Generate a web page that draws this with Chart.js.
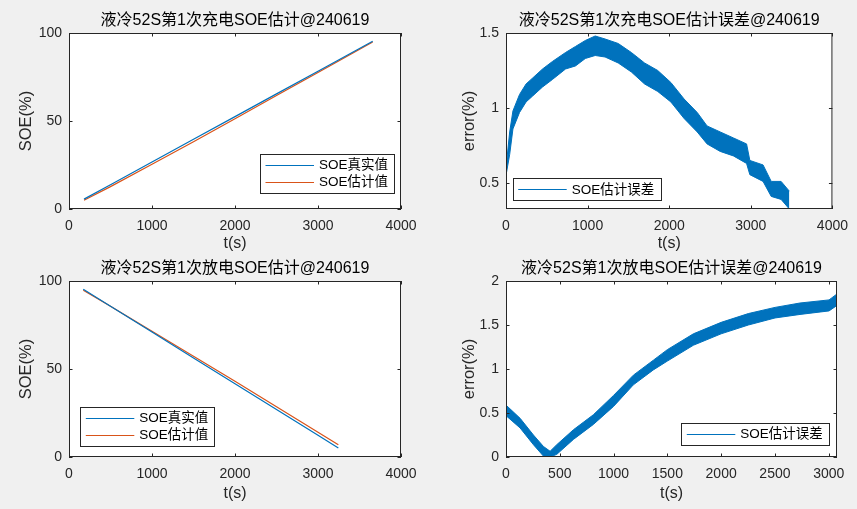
<!DOCTYPE html>
<html><head><meta charset="utf-8">
<script src="https://cdn.jsdelivr.net/npm/chart.js@4.4.1/dist/chart.umd.min.js"></script>
<style>
html,body{margin:0;padding:0;background:#f0f0f0;}
body{width:857px;height:509px;position:relative;overflow:hidden;}
canvas{position:absolute;}
</style></head><body>
<canvas id="c1" width="428" height="255" style="left:0;top:0"></canvas>
<canvas id="c2" width="429" height="255" style="left:428px;top:0"></canvas>
<canvas id="c3" width="428" height="254" style="left:0;top:255px"></canvas>
<canvas id="c4" width="429" height="254" style="left:428px;top:255px"></canvas>
<script>
// ---- data ----
const chargeTime = [181, 500, 1000, 1500, 2000, 2500, 3000, 3659];
const chargeTrue = [5.6, 13.8, 26.7, 39.6, 52.5, 65.4, 78.3, 95.3];
const chargeEst  = [5.0, 12.7, 25.4, 38.2, 51.3, 64.5, 77.6, 94.9];

const dischTime = [172, 500, 1000, 1500, 2000, 2500, 3000, 3245];
const dischTrue = [95.3, 85.7, 71.0, 56.3, 41.6, 27.0, 12.3, 5.1];
const dischEst  = [94.8, 85.6, 71.4, 57.3, 43.0, 28.6, 14.0, 6.9];

const chargeErrTime  = [0, 45, 85, 166, 246, 327, 448, 569, 730, 851, 972, 1093, 1214, 1375, 1536, 1698, 1859, 2020, 2182, 2343, 2464, 2625, 2787, 2948, 2988, 3150, 3250, 3371, 3472];
const chargeErrUpper = [0.60, 0.84, 0.98, 1.09, 1.16, 1.20, 1.26, 1.31, 1.37, 1.41, 1.45, 1.48, 1.46, 1.43, 1.37, 1.30, 1.25, 1.17, 1.06, 0.97, 0.88, 0.84, 0.80, 0.76, 0.65, 0.62, 0.51, 0.51, 0.445];
const chargeErrLower = [0.55, 0.69, 0.86, 0.97, 1.04, 1.08, 1.14, 1.19, 1.26, 1.28, 1.33, 1.35, 1.34, 1.30, 1.24, 1.16, 1.11, 1.04, 0.93, 0.84, 0.76, 0.71, 0.68, 0.63, 0.555, 0.51, 0.41, 0.39, 0.326];

const dischErrTime  = [0, 131, 255, 348, 410, 472, 627, 812, 1000, 1184, 1370, 1500, 1742, 2000, 2253, 2501, 2733, 3003, 3074];
const dischErrUpper = [0.59, 0.44, 0.25, 0.12, 0.065, 0.14, 0.31, 0.48, 0.70, 0.93, 1.10, 1.22, 1.40, 1.53, 1.63, 1.70, 1.75, 1.785, 1.85];
const dischErrLower = [0.47, 0.33, 0.14, 0.01, 0.0, 0.03, 0.20, 0.37, 0.575, 0.82, 0.99, 1.09, 1.27, 1.40, 1.50, 1.58, 1.62, 1.66, 1.72];

const timeTicks      = [0, 1000, 2000, 3000, 4000];
const socTicks       = [0, 50, 100];
const chargeErrTicks = [0.5, 1, 1.5];
const dischErrTicks  = [0, 0.5, 1, 1.5, 2];
const dischTimeTicks = [0, 500, 1000, 1500, 2000, 2500, 3000];

const titles = ['液冷52S第1次充电SOE估计@240619', '液冷52S第1次充电SOE估计误差@240619',
                '液冷52S第1次放电SOE估计@240619', '液冷52S第1次放电SOE估计误差@240619'];
const labelTrue = 'SOE真实值', labelEst = 'SOE估计值', labelErr = 'SOE估计误差';

// ---- styling ----
const BLUE = '#0072BD', ORANGE = '#D95319', AX = '#262626';
const FONT = '"Liberation Sans", Arial, "Noto Sans CJK SC", sans-serif';
const pts = (xs, ys) => xs.map((x, i) => ({x, y: ys[i]}));

const axesPlugin = {
  id: 'matlabAxes',
  beforeDatasetsDraw(chart) {
    const {ctx, chartArea: a} = chart;
    ctx.save(); ctx.fillStyle = '#fff';
    ctx.fillRect(a.left, a.top, a.right - a.left, a.bottom - a.top);
    ctx.restore();
  },
  afterDatasetsDraw(chart, args, o) {
    const {ctx, chartArea: a, scales: {x, y}} = chart;
    ctx.save();
    ctx.strokeStyle = AX; ctx.lineWidth = 1;
    const L = 3.5;
    ctx.beginPath();
    x.ticks.forEach(t => {
      const p = Math.round(x.getPixelForValue(t.value)) + 0.5;
      ctx.moveTo(p, a.bottom); ctx.lineTo(p, a.bottom - L);
      ctx.moveTo(p, a.top); ctx.lineTo(p, a.top + L);
    });
    y.ticks.forEach(t => {
      const p = Math.round(y.getPixelForValue(t.value)) + 0.5;
      ctx.moveTo(a.left, p); ctx.lineTo(a.left + L, p);
      ctx.moveTo(a.right, p); ctx.lineTo(a.right - L, p);
    });
    ctx.stroke();
    ctx.strokeRect(a.left + 0.5, a.top + 0.5, a.right - a.left - 1, a.bottom - a.top - 1);
    // title
    ctx.fillStyle = '#000';
    ctx.font = '16px ' + FONT;
    ctx.textAlign = 'center'; ctx.textBaseline = 'middle';
    ctx.fillText(o.title, (a.left + a.right) / 2, a.top - 12);
    // legend
    const items = chart.data.datasets.filter(d => !d.label.startsWith('_'));
    ctx.font = '13.5px ' + FONT;
    const tw = Math.max(...items.map(d => ctx.measureText(d.label).width));
    const bx = a.left + o.lx, by = a.top + o.ly;
    const rowH = 16.7;
    const bw = 59 + tw + 6, bh = items.length * rowH + 5.5;
    ctx.fillStyle = '#fff';
    ctx.fillRect(bx, by, bw, bh);
    ctx.strokeStyle = AX;
    ctx.strokeRect(Math.round(bx) + 0.5, Math.round(by) + 0.5, Math.round(bw), Math.round(bh));
    items.forEach((d, i) => {
      const cy = by + 2.8 + rowH / 2 + i * rowH;
      ctx.strokeStyle = d.borderColor; ctx.lineWidth = 1.2;
      ctx.beginPath(); ctx.moveTo(bx + 5.5, Math.round(cy) + 0.5); ctx.lineTo(bx + 54, Math.round(cy) + 0.5); ctx.stroke();
      ctx.fillStyle = '#000'; ctx.textAlign = 'left'; ctx.textBaseline = 'middle';
      ctx.fillText(d.label, bx + 59, cy + 0.5);
    });
    ctx.restore();
  }
};

function makeChart(id, cfg) {
  const setTicks = vals => (s => { s.ticks = vals.map(v => ({value: v})); });
  return new Chart(document.getElementById(id), {
    type: 'line',
    data: {datasets: cfg.datasets},
    plugins: [axesPlugin],
    options: {
      responsive: false, animation: false, devicePixelRatio: 1,
      layout: {padding: {left: 0, top: cfg.top, right: cfg.right, bottom: 0}},
      elements: {point: {radius: 0}, line: {tension: 0, borderWidth: 1.2}},
      plugins: {legend: {display: false}, tooltip: {enabled: false},
                matlabAxes: {title: cfg.title, lx: cfg.lx, ly: cfg.ly}},
      scales: {
        x: {type: 'linear', min: cfg.xmin, max: cfg.xmax,
            afterBuildTicks: setTicks(cfg.xticks),
            afterFit: s => { s.height = cfg.xh; },
            grid: {display: false, drawTicks: false}, border: {display: false},
            ticks: {autoSkip: false, maxRotation: 0, padding: 9, color: AX, font: {family: FONT, size: 14}, callback: v => String(v)},
            title: {display: true, text: 't(s)', color: AX, font: {family: FONT, size: 16}, padding: {top: 0, bottom: cfg.xtp}}},
        y: {type: 'linear', min: cfg.ymin, max: cfg.ymax,
            afterBuildTicks: setTicks(cfg.yticks),
            afterFit: s => { s.width = cfg.yw; },
            grid: {display: false, drawTicks: false}, border: {display: false},
            ticks: {autoSkip: false, padding: 7, color: AX, font: {family: FONT, size: 14}, callback: v => String(v)},
            title: {display: true, text: cfg.ylabel, color: AX, font: {family: FONT, size: 16.5}, padding: {top: cfg.ytp, bottom: 0}}}
      }
    }
  });
}

const lineDs = (label, xs, ys, color) => ({label, data: pts(xs, ys), borderColor: color, backgroundColor: color, borderWidth: 1.2, pointRadius: 0, fill: false});
const bandDs = (xs, lo, hi) => [
  {label: labelErr, data: pts(xs, lo), borderColor: BLUE, backgroundColor: BLUE, borderWidth: 1, pointRadius: 0, fill: false},
  {label: '_upper', data: pts(xs, hi), borderColor: BLUE, backgroundColor: BLUE, borderWidth: 1, pointRadius: 0, fill: '-1'}
];

makeChart('c1', {datasets: [lineDs(labelTrue, chargeTime, chargeTrue, BLUE), lineDs(labelEst, chargeTime, chargeEst, ORANGE)],
  title: titles[0], top: 33, right: 27, xh: 46, yw: 69, xtp: 1.5, ytp: 16.8,
  xmin: 0, xmax: 4000, xticks: timeTicks, ymin: 0, ymax: 100, yticks: socTicks, ylabel: 'SOE(%)', lx: 191, ly: 120.7});
makeChart('c2', {datasets: bandDs(chargeErrTime, chargeErrLower, chargeErrUpper),
  title: titles[1], top: 33, right: 20, xh: 46, yw: 78, xtp: 1.5, ytp: 31.6,
  xmin: 0, xmax: 4000, xticks: timeTicks, ymin: 0.326, ymax: 1.5, yticks: chargeErrTicks, ylabel: 'error(%)', lx: 6.7, ly: 145.3});
makeChart('c3', {datasets: [lineDs(labelTrue, dischTime, dischTrue, BLUE), lineDs(labelEst, dischTime, dischEst, ORANGE)],
  title: titles[2], top: 26, right: 27, xh: 52, yw: 69, xtp: 5.4, ytp: 16.8,
  xmin: 0, xmax: 4000, xticks: timeTicks, ymin: 0, ymax: 100, yticks: socTicks, ylabel: 'SOE(%)', lx: 11.3, ly: 125.7});
makeChart('c4', {datasets: bandDs(dischErrTime, dischErrLower, dischErrUpper),
  title: titles[3], top: 26, right: 20, xh: 52, yw: 78, xtp: 5.4, ytp: 31.6,
  xmin: 0, xmax: 3077, xticks: dischTimeTicks, ymin: 0, ymax: 2, yticks: dischErrTicks, ylabel: 'error(%)', lx: 175.3, ly: 141.7});
</script>
</body></html>
